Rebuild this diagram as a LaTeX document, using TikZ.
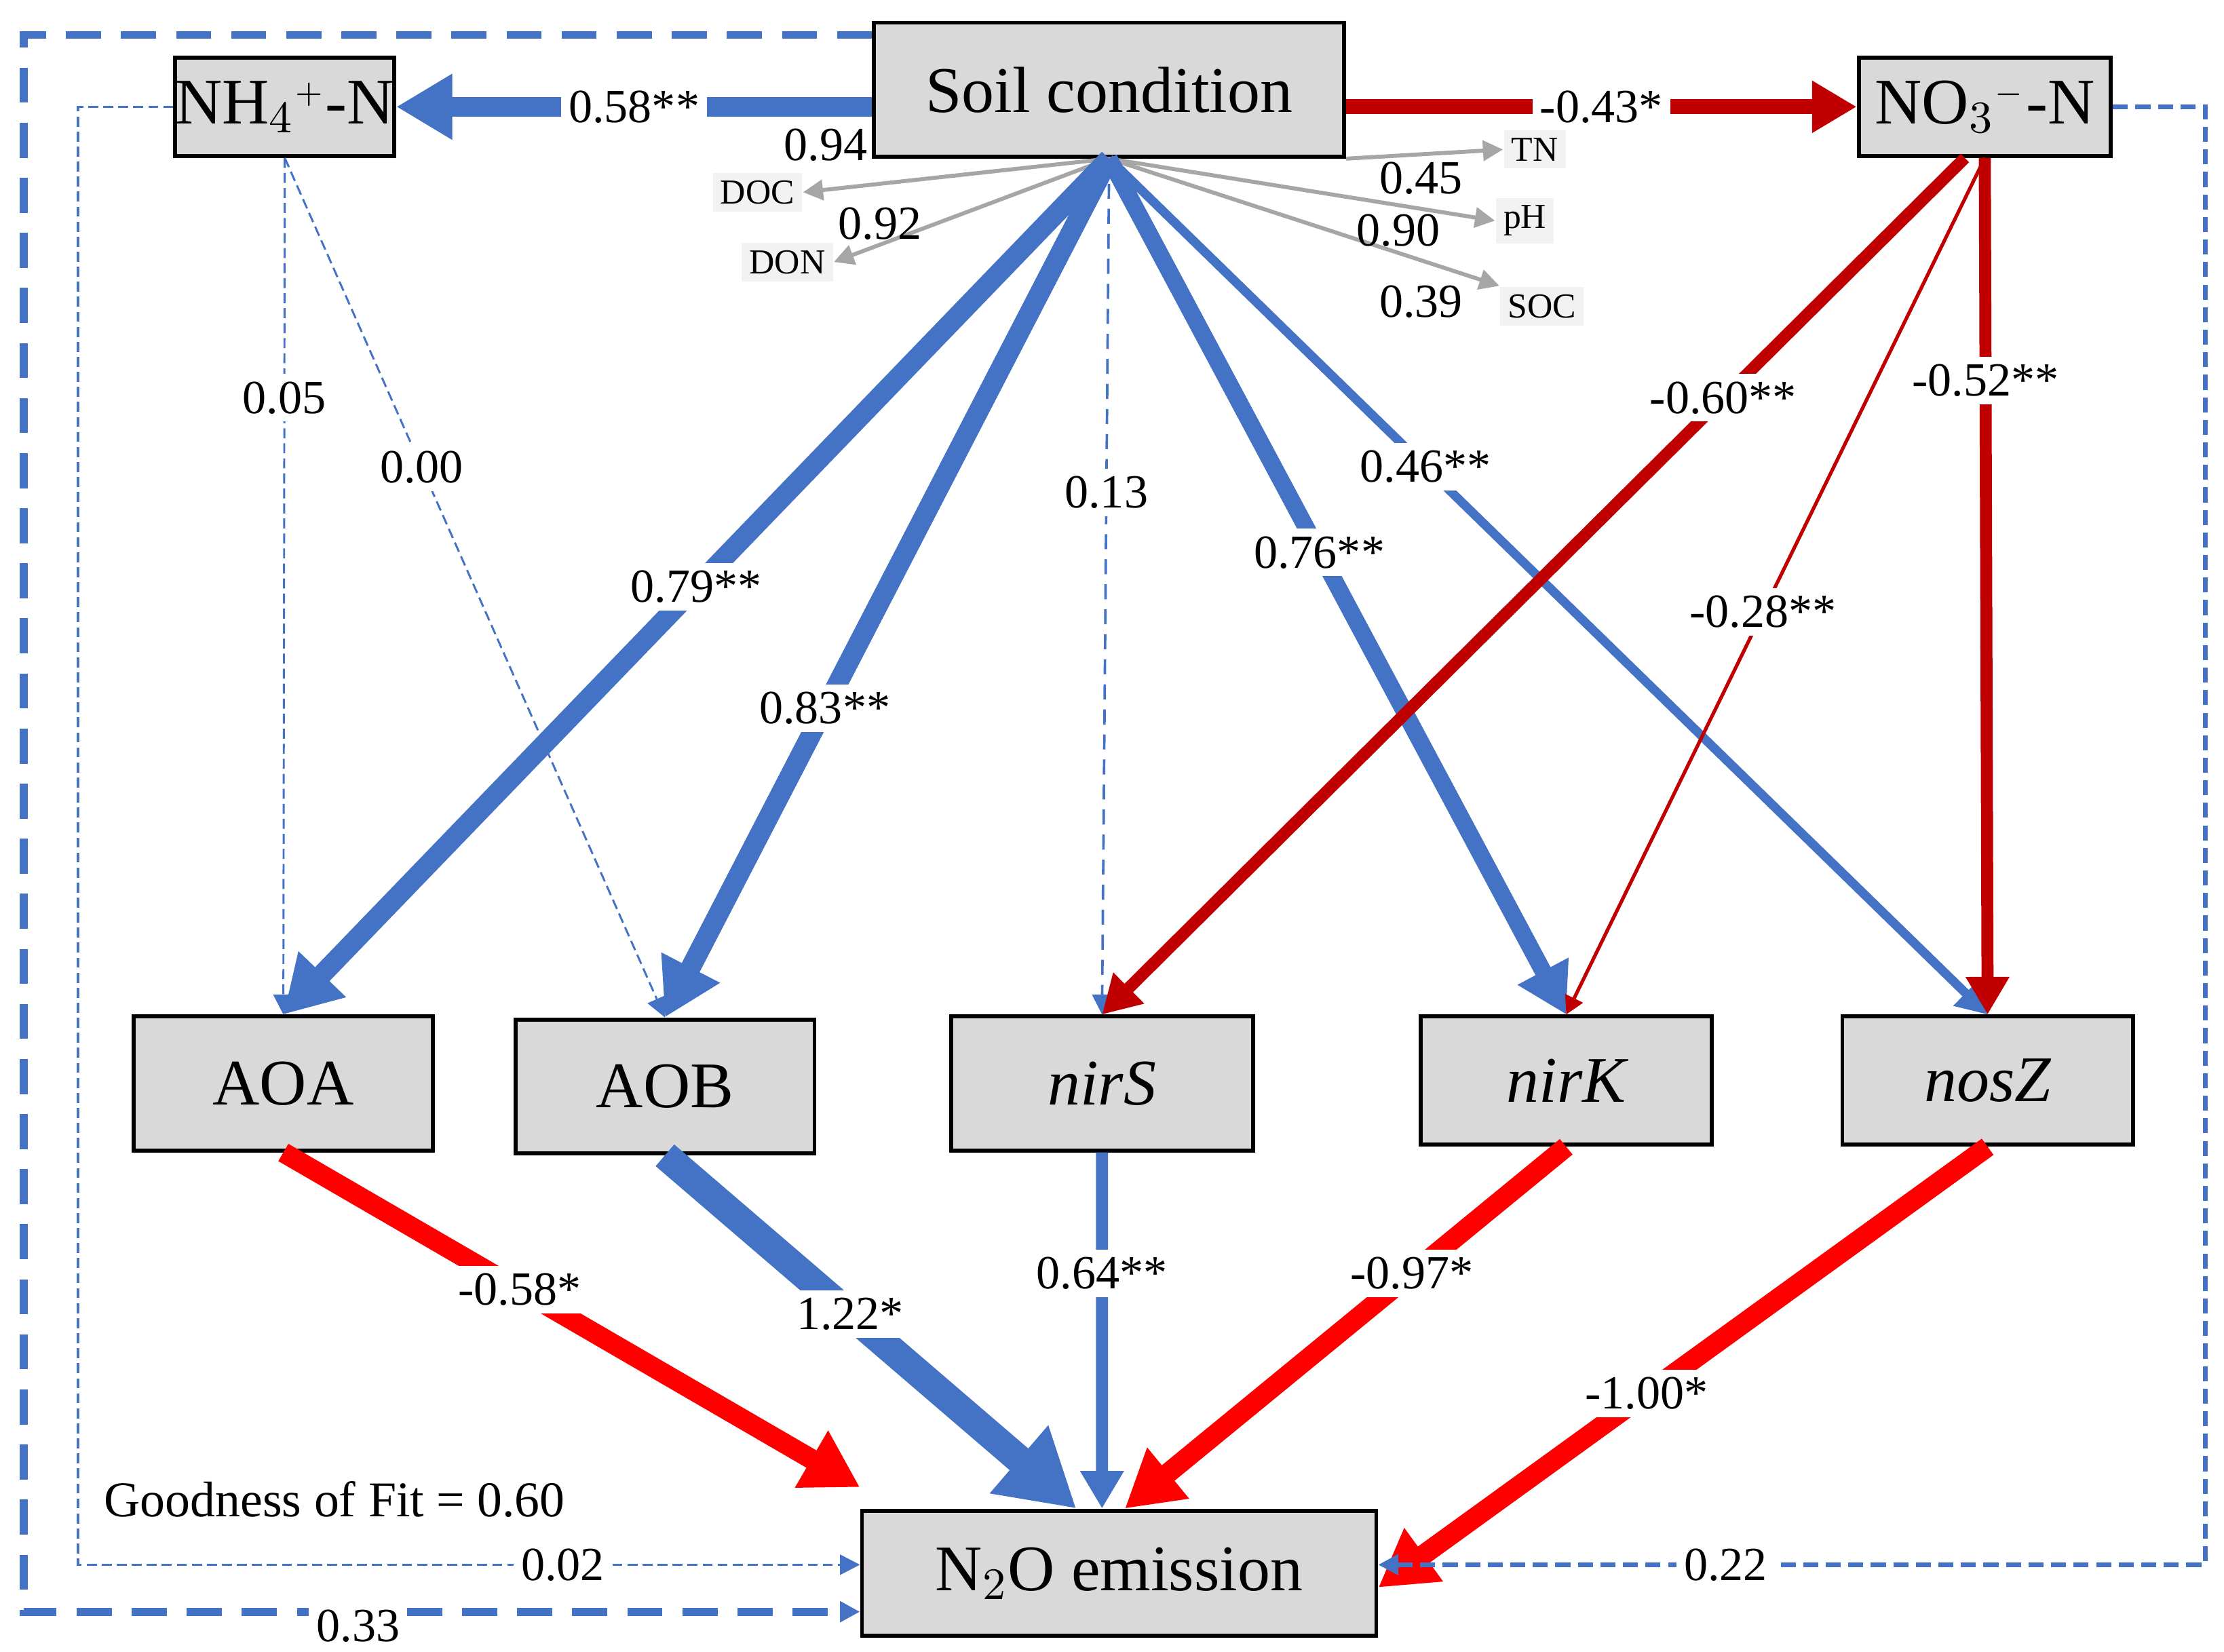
\documentclass[tikz,border=0pt]{standalone}
\usepackage{fontspec}
\setmainfont{Liberation Serif}
\usetikzlibrary{arrows.meta}
\definecolor{semblue}{HTML}{4472C4}
\definecolor{semdark}{HTML}{C00000}
\definecolor{semred}{HTML}{FF0000}
\definecolor{boxgray}{HTML}{D9D9D9}
\definecolor{obsgray}{HTML}{F2F2F2}
\definecolor{armgray}{HTML}{A6A6A6}
\tikzset{
  var/.style={draw=black, line width=0.8pt, fill=boxgray, inner sep=0pt, font=\fontsize{13}{13}\selectfont},
  obs/.style={fill=obsgray, inner sep=1.5pt, font=\fontsize{7}{8}\selectfont},
  lab/.style={fill=white, text=black, inner sep=1.5pt, font=\fontsize{9.5}{10}\selectfont},
  path/.style={-{Triangle[length=2pt 2.3, width=2pt 2.6]}},
  thin path/.style={-{Triangle[length=4pt, width=4pt]}},
}
\begin{document}
\begin{tikzpicture}[x=0.01cm, y=-0.01cm]
  \useasboundingbox (0,0) rectangle (1562,1160);

  % latent variables and measured factors
  \node[var, minimum width=3.3cm, minimum height=0.94cm] (soil) at (779,63) {Soil condition};
  \node[var, minimum width=1.46cm, minimum height=0.69cm] (nh4) at (200,75) {NH$_4{}^{\scriptscriptstyle +}$-N};
  \node[var, minimum width=1.77cm, minimum height=0.69cm] (no3) at (1394,75) {NO$_3{}^{\scriptscriptstyle -}$-N};
  \node[var, minimum width=2.1cm, minimum height=0.94cm] (aoa) at (199,761) {AOA};
  \node[var, minimum width=2.1cm, minimum height=0.94cm] (aob) at (467,763) {AOB};
  \node[var, minimum width=2.12cm, minimum height=0.94cm] (nirs) at (774,761) {\itshape nirS};
  \node[var, minimum width=2.04cm, minimum height=0.90cm] (nirk) at (1100,759) {\itshape nirK};
  \node[var, minimum width=2.04cm, minimum height=0.90cm] (nosz) at (1396,759) {\itshape nosZ};
  \node[var, minimum width=3.61cm, minimum height=0.88cm] (n2o) at (786,1105) {N$_2$O emission};

  \node[obs] (tn) at (1078,105) {TN};
  \node[obs] (doc) at (532,135) {DOC};
  \node[obs] (ph) at (1071,155) {pH};
  \node[obs] (don) at (553,184) {DON};
  \node[obs] (soc) at (1083,215) {SOC};

  % loadings
  \draw[thin path, armgray, line width=0.8pt] (soil.south) -- (doc.east);
  \draw[thin path, armgray, line width=0.8pt] (soil.south) -- (don.east);
  \draw[thin path, armgray, line width=0.8pt] (soil.south east) -- (tn.west);
  \draw[thin path, armgray, line width=0.8pt] (soil.south) -- (ph.west);
  \draw[thin path, armgray, line width=0.8pt] (soil.south) -- (soc.north west);
  \node[lab, fill=none] at (580,102) {0.94};
  \node[lab, fill=none] at (998,125) {0.45};
  \node[lab, fill=none] at (618,157) {0.92};
  \node[lab, fill=none] at (982,162) {0.90};
  \node[lab, fill=none] at (998,212) {0.39};

  % soil condition paths
  \draw[path, semblue, line width=4pt] (soil.west |- nh4) -- node[lab] {0.58**} (nh4.east);
  \draw[path, semdark, line width=3pt] (soil.east |- no3) -- node[lab] {-0.43*} (no3.west);
  \draw[path, semblue, line width=4pt] (soil.south) -- node[lab, pos=0.5] {0.79**} (aoa.north);
  \draw[path, semblue, line width=4pt] (soil.south) -- node[lab, pos=0.64] {0.83**} (aob.north);
  \draw[thin path, semblue, line width=0.5pt, dash pattern=on 3pt off 2pt] (soil.south) -- node[lab, pos=0.39] {0.13} (nirs.north);
  \draw[path, semblue, line width=3.4pt] (soil.south) -- node[lab, pos=0.46] {0.76**} (nirk.north);
  \draw[path, semblue, line width=1.8pt] (soil.south) -- node[lab, pos=0.36] {0.46**} (nosz.north);

  % ammonium and nitrate paths
  \draw[thin path, semblue, line width=0.4pt, dash pattern=on 2pt off 1pt] (nh4.south) -- node[lab, pos=0.28] {0.05} (aoa.north);
  \draw[thin path, semblue, line width=0.4pt, dash pattern=on 2pt off 1pt] (nh4.south) -- node[lab, pos=0.36] {0.00} (aob.north);
  \draw[path, semdark, line width=2.4pt] ([xshift=-0.14cm]no3.south) -- node[lab, pos=0.28] {-0.60**} (nirs.north);
  \draw[path, semdark, line width=0.7pt] (no3.south) -- node[lab, pos=0.53] {-0.28**} (nirk.north);
  \draw[path, semdark, line width=2.4pt] (no3.south) -- node[lab, pos=0.26] {-0.52**} (nosz.north);

  % functional genes to N2O
  \draw[path, semred, line width=4pt] (aoa.south) -- node[lab, pos=0.41] {-0.58*} ([yshift=0.15cm]n2o.north west);
  \draw[path, semblue, line width=5.7pt] (aob.south) -- node[lab, pos=0.45] {1.22*} ([xshift=-0.3cm]n2o.north);
  \draw[path, semblue, line width=2.4pt] (nirs.south) -- node[lab, pos=0.34] {0.64**} ([xshift=-0.12cm]n2o.north);
  \draw[path, semred, line width=4pt] (nirk.south) -- node[lab, pos=0.35] {-0.97*} ([xshift=0.04cm]n2o.north);
  \draw[path, semred, line width=4pt] (nosz.south) -- node[lab, pos=0.56] {-1.00*} ([yshift=-0.1cm]n2o.east);

  % direct paths to N2O
  \draw[thin path, semblue, line width=0.5pt, dash pattern=on 2pt off 1pt] (nh4.west) -- ++(-67,0) |- node[lab, pos=0.81] {0.02} ([yshift=0.06cm]n2o.west);
  \draw[thin path, semblue, line width=1.6pt, dash pattern=on 7pt off 4pt] ([yshift=-0.1cm]soil.north west) -- ++(-596,0) |- node[lab, pos=0.7, yshift=-0.1cm] {0.33} ([yshift=-0.27cm]n2o.west);
  \draw[thin path, semblue, line width=0.9pt, dash pattern=on 3pt off 1.5pt] (no3.east) -- ++(65,0) |- node[lab, pos=0.79] {0.22} ([yshift=0.06cm]n2o.east);

  \node[font=\fontsize{10}{11}\selectfont] (fit) at (235,1053) {Goodness of Fit = 0.60};
\end{tikzpicture}
\end{document}
